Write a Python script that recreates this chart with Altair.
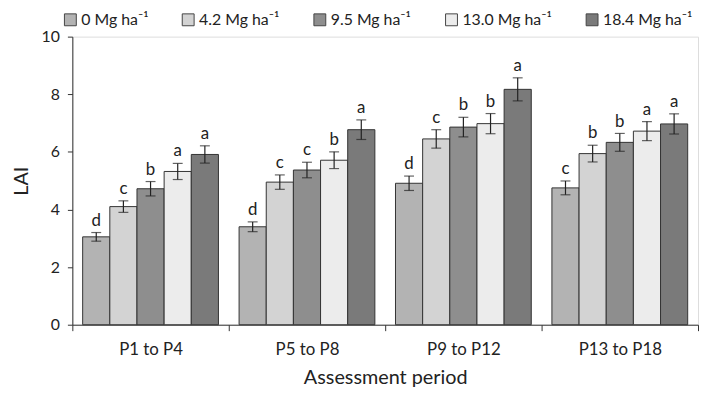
import altair as alt
import pandas as pd

periods = ["P1 to P4", "P5 to P8", "P9 to P12", "P13 to P18"]
rates = ["0 Mg ha⁻¹", "4.2 Mg ha⁻¹", "9.5 Mg ha⁻¹", "13.0 Mg ha⁻¹", "18.4 Mg ha⁻¹"]
colors = ["#b3b3b3", "#d3d3d3", "#8e8e8e", "#ececec", "#7a7a7a"]

lai = [
    [3.05, 4.10, 4.72, 5.32, 5.91],
    [3.40, 4.95, 5.37, 5.71, 6.77],
    [4.91, 6.45, 6.86, 6.98, 8.17],
    [4.75, 5.94, 6.33, 6.72, 6.97],
]
err = [
    [0.15, 0.20, 0.25, 0.28, 0.30],
    [0.17, 0.25, 0.27, 0.29, 0.34],
    [0.25, 0.32, 0.34, 0.35, 0.40],
    [0.24, 0.29, 0.31, 0.33, 0.35],
]
letters = [
    ["d", "c", "b", "a", "a"],
    ["d", "c", "c", "b", "a"],
    ["d", "c", "b", "b", "a"],
    ["c", "b", "b", "a", "a"],
]

rows = []
for i, p in enumerate(periods):
    for j, r in enumerate(rates):
        rows.append({
            "period": p, "rate": r, "lai": lai[i][j],
            "lo": lai[i][j] - err[i][j], "hi": lai[i][j] + err[i][j],
            "letter": letters[i][j],
        })
df = pd.DataFrame(rows)

FONT = "Lato"

x = alt.X("period:N", sort=periods,
          scale=alt.Scale(paddingInner=0, paddingOuter=0),
          axis=alt.Axis(title="Assessment period", tickBand="extent",
                        labelAngle=0, labelFont=FONT, labelFontSize=17,
                        labelColor="#222", labelPadding=11,
                        titleFont=FONT, titleFontSize=20, titleFontWeight="normal",
                        titleColor="#222", titlePadding=10,
                        domainColor="#333", tickColor="#333", tickSize=6,
                        grid=False))
xo = alt.XOffset("rate:N", sort=rates, scale=alt.Scale(paddingInner=0, paddingOuter=0.38))

base = alt.Chart(df)

bars = base.mark_bar(stroke="#333", strokeWidth=1).encode(
    x=x, xOffset=xo,
    y=alt.Y("lai:Q", scale=alt.Scale(domain=[0, 10]),
            axis=alt.Axis(title="LAI", values=list(range(0, 11)),
                          labelExpr="datum.value % 2 == 0 ? datum.label : ''",
                          labelFont=FONT, labelFontSize=16, labelColor="#222",
                          labelPadding=8,
                          titleFont=FONT, titleFontSize=20, titleFontWeight="normal",
                          titleColor="#222", titlePadding=10,
                          domainColor="#333", tickColor="#333", tickSize=5,
                          grid=False)),
    fill=alt.Fill("rate:N", sort=rates,
                  scale=alt.Scale(domain=rates, range=colors),
                  legend=alt.Legend(title=None, orient="none", direction="horizontal",
                                    columns=5, legendX=-10, legendY=-25,
                                    symbolType="square", symbolSize=144,
                                    symbolStrokeColor="#444", symbolStrokeWidth=1,
                                    symbolOpacity=1,
                                    labelFont=FONT, labelFontSize=16, labelColor="#222",
                                    columnPadding=32, labelOffset=3)),
)

rules = base.mark_rule(color="#222", strokeWidth=1.2).encode(
    x=x, xOffset=xo, y="lo:Q", y2="hi:Q")

caps_lo = base.mark_tick(color="#222", thickness=1.2, size=10).encode(
    x=x, xOffset=xo, y="lo:Q")
caps_hi = base.mark_tick(color="#222", thickness=1.2, size=10).encode(
    x=x, xOffset=xo, y="hi:Q")

labels = base.mark_text(font=FONT, fontSize=17, color="#222", dy=-12).encode(
    x=x, xOffset=xo, y="hi:Q", text="letter:N")

chart = (bars + rules + caps_lo + caps_hi + labels).properties(
    width=632, height=291, padding={"left": 3, "top": 2, "right": 0, "bottom": 0}
).configure_view(stroke=None).configure(background="white")

chart.save("out.html", embed_options={"renderer": "svg", "actions": False})
